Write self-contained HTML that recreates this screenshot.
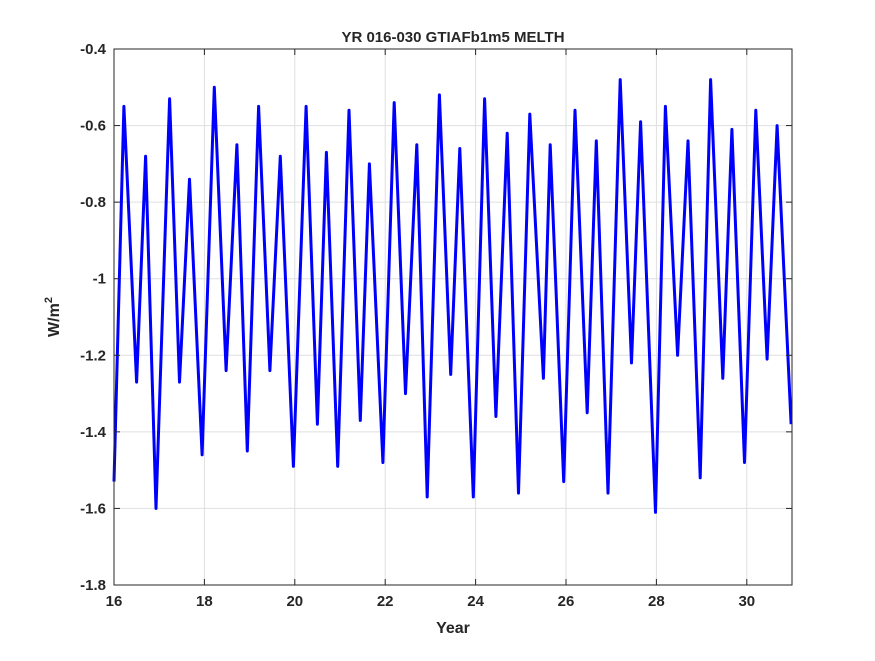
<!DOCTYPE html>
<html><head><meta charset="utf-8"><style>
body{margin:0;background:#fff;}
svg text{font-family:"Liberation Sans",sans-serif;font-weight:bold;fill:#262626;}
</style></head><body>
<svg id="chart" width="875" height="656" viewBox="0 0 875 656" xmlns="http://www.w3.org/2000/svg">
<rect width="875" height="656" fill="#fff"/>
<g id="grid"></g>
<g id="series"></g>
<g id="axes"></g>
<text x="453" y="42" text-anchor="middle" font-size="15">YR 016-030 GTIAFb1m5 MELTH</text>
<text x="453" y="633" text-anchor="middle" font-size="16">Year</text>
<text transform="translate(59,317) rotate(-90)" text-anchor="middle" font-size="16">W/m<tspan dy="-7" font-size="11">2</tspan></text>
</svg>
<script>
const xTicks=[16,18,20,22,24,26,28,30];
const yTicks=[-1.8,-1.6,-1.4,-1.2,-1,-0.8,-0.6,-0.4];
const yTickLabels=["-1.8","-1.6","-1.4","-1.2","-1","-0.8","-0.6","-0.4"];
const times=[16.0,16.22,16.5,16.7,16.93,17.23,17.45,17.67,17.95,18.22,18.48,18.72,18.95,19.2,19.45,19.68,19.97,20.25,20.5,20.7,20.95,21.2,21.45,21.65,21.95,22.2,22.45,22.7,22.93,23.2,23.45,23.65,23.95,24.2,24.45,24.7,24.95,25.2,25.5,25.65,25.95,26.2,26.47,26.67,26.93,27.2,27.45,27.65,27.98,28.2,28.47,28.7,28.97,29.2,29.47,29.67,29.95,30.2,30.45,30.67,30.98];
const melth=[-1.53,-0.55,-1.27,-0.68,-1.60,-0.53,-1.27,-0.74,-1.46,-0.50,-1.24,-0.65,-1.45,-0.55,-1.24,-0.68,-1.49,-0.55,-1.38,-0.67,-1.49,-0.56,-1.37,-0.70,-1.48,-0.54,-1.30,-0.65,-1.57,-0.52,-1.25,-0.66,-1.57,-0.53,-1.36,-0.62,-1.56,-0.57,-1.26,-0.65,-1.53,-0.56,-1.35,-0.64,-1.56,-0.48,-1.22,-0.59,-1.61,-0.55,-1.20,-0.64,-1.52,-0.48,-1.26,-0.61,-1.48,-0.56,-1.21,-0.60,-1.38];
const L=114,R=792,T=49,B=585,X0=16,X1=31,Y0=-1.8,Y1=-0.4;
const xs=v=>L+(v-X0)/(X1-X0)*(R-L);
const ys=v=>B-(v-Y0)/(Y1-Y0)*(B-T);
const NS="http://www.w3.org/2000/svg";
function mk(tag,attrs,parent){const e=document.createElementNS(NS,tag);for(const k in attrs)e.setAttribute(k,attrs[k]);parent.appendChild(e);return e;}
const grid=document.getElementById('grid'),axes=document.getElementById('axes'),series=document.getElementById('series');
xTicks.forEach(t=>{const x=xs(t);
 const g=mk('line',{x1:x,x2:x,y1:T,y2:B,stroke:'#dfdfdf','stroke-width':1},grid);
 
 
 mk('line',{x1:x,x2:x,y1:B,y2:B-6,stroke:'#262626'},axes);
 mk('line',{x1:x,x2:x,y1:T,y2:T+6,stroke:'#262626'},axes);
 const tx=mk('text',{x:x,y:B+21,'text-anchor':'middle','font-size':15},axes);tx.textContent=t;
 
 
});
yTicks.forEach((t,i)=>{const y=ys(t);
 const g=mk('line',{x1:L,x2:R,y1:y,y2:y,stroke:'#dfdfdf','stroke-width':1},grid);
 
 
 mk('line',{x1:L,x2:L+6,y1:y,y2:y,stroke:'#262626'},axes);
 mk('line',{x1:R,x2:R-6,y1:y,y2:y,stroke:'#262626'},axes);
 const tx=mk('text',{x:L-8,y:y+5,'text-anchor':'end','font-size':15},axes);tx.textContent=yTickLabels[i];
 
 
});
const box=mk('rect',{x:L,y:T,width:R-L,height:B-T,fill:'none',stroke:'#262626','stroke-width':1},axes);


const pts=times.map((t,i)=>xs(t).toFixed(1)+','+ys(melth[i]).toFixed(1)).join(' ');
const line=mk('polyline',{points:pts,fill:'none',stroke:'#0000ff','stroke-width':3,'stroke-linejoin':'round'},series);


</script>
</body></html>
